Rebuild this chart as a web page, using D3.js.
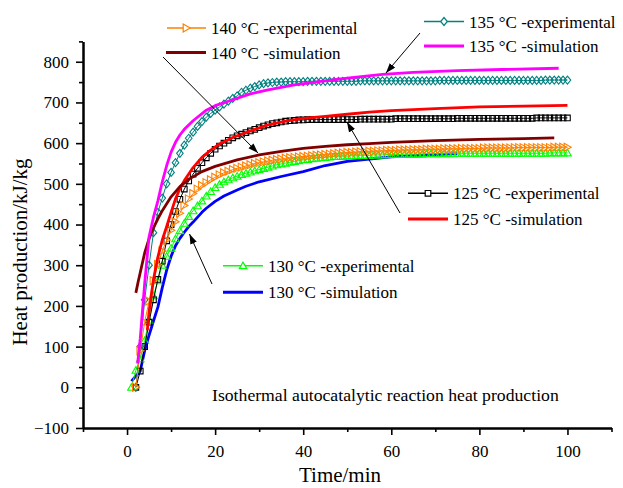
<!DOCTYPE html>
<html>
<head>
<meta charset="utf-8">
<script src="https://cdn.jsdelivr.net/npm/d3@7/dist/d3.min.js"></script>
<style>
  html, body { margin: 0; padding: 0; background: #fff; }
  svg { display: block; }
  text { font-family: "Liberation Serif", "Times New Roman", serif; fill: #000; }
</style>
</head>
<body>
<svg id="chart" width="623" height="488"></svg>
<script>
// ---------------- data ----------------
const xTicks = [0, 20, 40, 60, 80, 100];
const xMinorTicks = [-10, 10, 30, 50, 70, 90, 110];
const yTicks = [-100, 0, 100, 200, 300, 400, 500, 600, 700, 800];
const yMinorTicks = [-50, 50, 150, 250, 350, 450, 550, 650, 750, 850];

// experimental series: one value per minute, starting at the given minute
const exp140Start = 2;
const exp140 = [
  0, 90, 160, 212, 262, 302, 335, 362, 386,              // 2-10
  407, 428, 447, 463, 476, 487, 496, 503, 510, 516,      // 11-20
  522, 527, 531, 535, 538, 541, 544, 547, 550, 552,      // 21-30
  554, 556, 558, 560, 561, 563, 564, 565, 566, 567,      // 31-40
  568, 569, 570, 571, 572, 573, 574, 575, 576, 577,      // 41-50
  577, 578, 579, 579, 580, 580, 581, 581, 582, 582,      // 51-60
  582, 583, 583, 583, 584, 584, 584, 585, 585, 585,      // 61-70
  585, 586, 586, 586, 586, 587, 587, 587, 587, 587,      // 71-80
  588, 588, 588, 588, 588, 588, 588, 589, 589, 589,      // 81-90
  589, 589, 589, 589, 589, 589, 590, 590, 590, 590       // 91-100
];

const exp130Start = 1;
const exp130 = [
  0, 42, 70, 115, 165, 225, 262, 300, 322, 342,          // 1-10
  365, 385, 403, 420, 434, 446, 458, 470, 481, 491,      // 11-20
  499, 505, 510, 515, 519, 523, 526, 529, 532, 535,      // 21-30
  538, 541, 544, 547, 549, 551, 553, 555, 557, 559,      // 31-40
  560, 562, 563, 564, 565, 566, 567, 567, 568, 568,      // 41-50
  569, 569, 570, 570, 570, 571, 571, 571, 572, 572,      // 51-60
  572, 572, 573, 573, 573, 573, 573, 574, 574, 574,      // 61-70
  574, 574, 574, 574, 575, 575, 575, 575, 575, 575,      // 71-80
  575, 575, 575, 575, 575, 575, 575, 575, 575, 575,      // 81-90
  575, 575, 575, 575, 575, 576, 576, 576, 576, 576       // 91-100
];

const exp135Start = 2;
const exp135 = [
  0, 100, 215, 300, 380, 430, 465, 500, 528,             // 2-10
  552, 575, 595, 612, 627, 641, 653, 664, 673, 681,      // 11-20
  689, 696, 703, 710, 716, 725, 730, 735, 739, 743,      // 21-30
  746, 748, 749, 750, 750, 751, 751, 751, 751, 751,      // 31-40
  752, 752, 752, 752, 752, 752, 752, 752, 752, 752,      // 41-50
  752, 752, 753, 753, 753, 753, 753, 753, 753, 753,      // 51-60
  753, 753, 753, 753, 753, 753, 753, 753, 753, 753,      // 61-70
  754, 754, 754, 754, 754, 754, 754, 754, 754, 754,      // 71-80
  754, 754, 754, 754, 754, 754, 754, 754, 754, 754,      // 81-90
  754, 754, 754, 754, 755, 755, 755, 755, 755, 755       // 91-100
];

const exp125Start = 2;
const exp125 = [
  0, 40, 100, 160, 215, 265, 310, 360, 400,              // 2-10
  432, 462, 487, 507, 524, 538, 552, 564, 575, 585,      // 11-20
  593, 600, 607, 613, 618, 622, 626, 630, 634, 638,      // 21-30
  642, 645, 648, 650, 652, 654, 655, 656, 657, 657,      // 31-40
  658, 658, 658, 658, 658, 658, 658, 658, 658, 658,      // 41-50
  658, 658, 659, 659, 659, 659, 659, 659, 659, 659,      // 51-60
  660, 660, 660, 660, 660, 660, 660, 660, 660, 660,      // 61-70
  660, 660, 660, 660, 661, 661, 661, 661, 661, 661,      // 71-80
  661, 661, 661, 661, 661, 661, 661, 661, 661, 661,      // 81-90
  661, 661, 662, 662, 662, 662, 662, 662, 662, 662       // 91-100
];

// simulation series: time (min) and value (kJ/kg)
const sim140T = [2, 2.5, 3, 4, 5, 6, 7, 8, 10, 12, 14, 17, 20, 25, 30, 35, 40, 45, 50, 55, 60, 70, 80, 90, 97];
const sim140V = [232, 258, 282, 330, 365, 392, 414, 434, 468, 493, 511, 530, 543, 559, 571, 580, 587, 592, 596, 599, 602, 606, 609, 611, 613];

const sim135T = [2.4, 3, 4, 5, 6, 7, 8, 9, 10, 11, 12, 13, 15, 18, 20, 23, 28, 32, 38, 44, 50, 58, 65, 75, 85, 98];
const sim135V = [58, 120, 255, 370, 418, 458, 505, 545, 578, 602, 620, 634, 655, 681, 692, 703, 721, 731, 743, 752, 760, 769, 774, 778, 781, 784];

const sim125T = [4.6, 5, 6, 7, 8, 9, 10, 11, 12, 13, 15, 17, 19, 21, 24, 28, 32, 36, 40, 45, 50, 55, 60, 70, 80, 90, 100];
const sim125V = [140, 185, 265, 320, 362, 395, 430, 463, 488, 508, 540, 565, 583, 598, 614, 630, 645, 654, 661, 666, 671, 676, 680, 685, 689, 691, 693];

const sim130T = [1, 3, 4, 5, 6, 7, 8, 9, 10, 11, 12, 13, 14, 15, 17, 18, 20, 22, 25, 27, 30, 35, 40, 45, 50, 55, 60, 65, 70, 75];
const sim130V = [15, 40, 90, 128, 163, 197, 245, 288, 322, 348, 366, 381, 395, 406, 430, 440, 457, 470, 485, 494, 505, 518, 530, 545, 555, 561, 566, 569, 572, 574];

const legendLabels = {
  e140: "140 °C -experimental", s140: "140 °C -simulation",
  e135: "135 °C -experimental", s135: "135 °C -simulation",
  e125: "125 °C -experimental", s125: "125 °C -simulation",
  e130: "130 °C -experimental", s130: "130 °C -simulation"
};
const noteText = "Isothermal autocatalytic reaction heat production";
const xTitle = "Time/min";
const yTitle = "Heat production/kJ/kg";

// ---------------- chart ----------------
const svg = d3.select("#chart");
const x = d3.scaleLinear().domain([-10, 110]).range([83, 611.5]);
const y = d3.scaleLinear().domain([-100, 850]).range([428, 41.4]);

const C = {
  orange: "#ff8000", brown: "#800000", teal: "#008080", magenta: "#ff00ff",
  black: "#000000", red: "#ff0000", green: "#00ff00", blue: "#0000ff"
};

// marker shapes
function shapePath(kind, cx, cy) {
  if (kind === "tri-right") {
    return `M${cx - 3.3},${cy - 4} L${cx + 3.7},${cy} L${cx - 3.3},${cy + 4} Z`;
  } else if (kind === "tri-up") {
    return `M${cx},${cy - 3.6} L${cx + 3.8},${cy + 3} L${cx - 3.8},${cy + 3} Z`;
  } else if (kind === "diamond") {
    return `M${cx},${cy - 4} L${cx + 3.3},${cy} L${cx},${cy + 4} L${cx - 3.3},${cy} Z`;
  } else {
    return `M${cx - 2.8},${cy - 2.8} h5.6 v5.6 h-5.6 Z`;
  }
}

function expPoints(start, vals) {
  return vals.map((v, i) => [start + i, v]);
}
function simPoints(ts, vs) {
  return ts.map((t, i) => [t, vs[i]]);
}

const line = d3.line().x(d => x(d[0])).y(d => y(d[1]));
const plot = svg.append("g");

function drawExp(pts, color, kind) {
  const g = plot.append("g");
  g.append("path").attr("d", line(pts)).attr("fill", "none")
    .attr("stroke", color).attr("stroke-width", 1);
  g.selectAll("path.m").data(pts).enter().append("path").attr("class", "m")
    .attr("d", d => shapePath(kind, x(d[0]), y(d[1])))
    .attr("fill", "none").attr("stroke", color).attr("stroke-width", 1.1);
}
function drawSim(pts, color) {
  plot.append("path").attr("d", line(pts)).attr("fill", "none")
    .attr("stroke", color).attr("stroke-width", 2.8).attr("stroke-linejoin", "round");
}

drawSim(simPoints(sim130T, sim130V), C.blue);
drawExp(expPoints(exp130Start, exp130), C.green, "tri-up");
drawExp(expPoints(exp125Start, exp125), C.black, "square");
drawExp(expPoints(exp135Start, exp135), C.teal, "diamond");
drawExp(expPoints(exp140Start, exp140), C.orange, "tri-right");

drawSim(simPoints(sim125T, sim125V), C.red);
drawSim(simPoints(sim140T, sim140V), C.brown);
drawSim(simPoints(sim135T, sim135V), C.magenta);

// ---------------- axes ----------------
function styleAxis(g) {
  g.select(".domain").attr("stroke", "#000").attr("stroke-width", 2);
  g.selectAll(".tick line").attr("stroke", "#000").attr("stroke-width", 1.6);
  g.selectAll("text").style("font-family", '"Liberation Serif", "Times New Roman", serif')
    .style("font-size", "17px").attr("fill", "#000");
}
const xAxisY = 428;
svg.append("g").attr("transform", `translate(0,${xAxisY})`)
  .call(d3.axisBottom(x).tickValues(xMinorTicks).tickSize(4).tickFormat("").tickSizeOuter(0))
  .call(styleAxis);
svg.append("g").attr("transform", `translate(0,${xAxisY})`)
  .call(d3.axisBottom(x).tickValues(xTicks).tickSize(7).tickPadding(10).tickSizeOuter(0))
  .call(styleAxis);
svg.append("g").attr("transform", `translate(83,0)`)
  .call(d3.axisLeft(y).tickValues(yMinorTicks).tickSize(4).tickFormat("").tickSizeOuter(0))
  .call(styleAxis);
svg.append("g").attr("transform", `translate(83,0)`)
  .call(d3.axisLeft(y).tickValues(yTicks).tickSize(7).tickPadding(7)
    .tickFormat(d => d < 0 ? "\u2212" + Math.abs(d) : d).tickSizeOuter(0))
  .call(styleAxis);

// axis titles
svg.append("text").attr("x", 340).attr("y", 482).attr("text-anchor", "middle")
  .style("font-size", "21px").text(xTitle);
svg.append("text").attr("transform", "translate(27,252) rotate(-90)")
  .attr("text-anchor", "middle").style("font-size", "21px").text(yTitle);

// note
svg.append("text").attr("x", 212).attr("y", 401).style("font-size", "17.7px").text(noteText);

// ---------------- legends ----------------
function legendExp(x0, x1, yy, color, kind, label) {
  svg.append("line").attr("x1", x0).attr("x2", x1).attr("y1", yy).attr("y2", yy)
    .attr("stroke", color).attr("stroke-width", 1.4);
  svg.append("path").attr("d", shapePath(kind, (x0 + x1) / 2, yy))
    .attr("fill", "#fff").attr("stroke", color).attr("stroke-width", 1.2);
  svg.append("text").attr("x", x1 + 5).attr("y", yy + 6).style("font-size", "17px").text(label);
}
function legendSim(x0, x1, yy, color, label) {
  svg.append("line").attr("x1", x0).attr("x2", x1).attr("y1", yy).attr("y2", yy)
    .attr("stroke", color).attr("stroke-width", 3);
  svg.append("text").attr("x", x1 + 5).attr("y", yy + 6).style("font-size", "17px").text(label);
}
legendExp(167, 206, 28, C.orange, "tri-right", legendLabels.e140);
legendSim(166, 206, 52.5, C.brown, legendLabels.s140);
legendExp(424, 464, 21.5, C.teal, "diamond", legendLabels.e135);
legendSim(424, 464, 46, C.magenta, legendLabels.s135);
legendExp(408, 448, 193.3, C.black, "square", legendLabels.e125);
legendSim(408, 448, 219, C.red, legendLabels.s125);
legendExp(223, 263, 265.7, C.green, "tri-up", legendLabels.e130);
legendSim(223, 263, 292.3, C.blue, legendLabels.s130);

// ---------------- arrows ----------------
svg.append("defs").append("marker").attr("id", "ah")
  .attr("markerUnits", "userSpaceOnUse").attr("markerWidth", 11).attr("markerHeight", 8)
  .attr("refX", 10).attr("refY", 3.5).attr("orient", "auto")
  .append("path").attr("d", "M0,0 L10,3.5 L0,7 Z").attr("fill", "#000");
const arrows = [
  [163, 57, 258, 153],
  [420, 33, 386, 73],
  [400, 213, 347, 122],
  [212, 284, 189.5, 234]
];
svg.selectAll("line.arrow").data(arrows).enter().append("line").attr("class", "arrow")
  .attr("x1", d => d[0]).attr("y1", d => d[1]).attr("x2", d => d[2]).attr("y2", d => d[3])
  .attr("stroke", "#000").attr("stroke-width", 1).attr("marker-end", "url(#ah)");
</script>
</body>
</html>
